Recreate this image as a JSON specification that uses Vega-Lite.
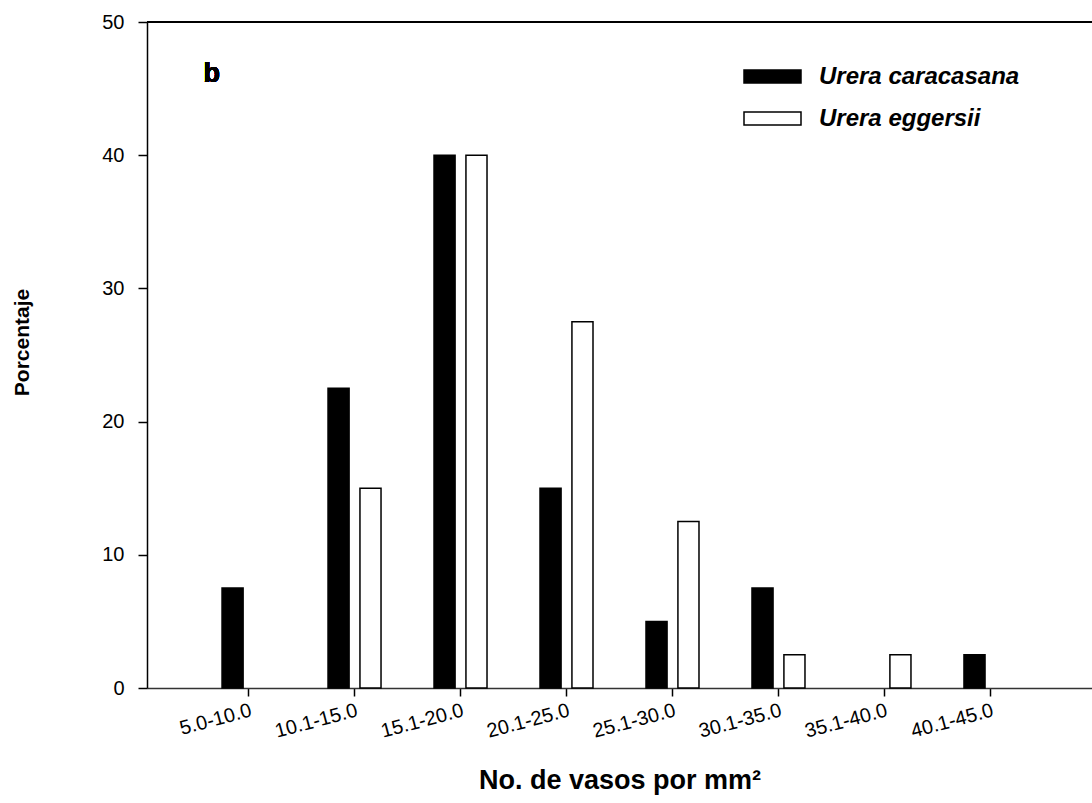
{
  "$schema": "https://vega.github.io/schema/vega-lite/v6.json",
  "width": 945,
  "height": 666,
  "autosize": {"type": "none"},
  "padding": {"left": 147, "top": 22, "right": 0, "bottom": 115},
  "background": "white",
  "config": {
    "font": "Liberation Sans",
    "view": {"stroke": null},
    "axis": {
      "grid": false,
      "domainColor": "black",
      "domainWidth": 1.5,
      "tickColor": "black",
      "tickWidth": 1.5,
      "labelColor": "black",
      "titleColor": "black",
      "labelFont": "Liberation Sans",
      "titleFont": "Liberation Sans"
    }
  },
  "data": {
    "values": [
      {"clase": "5.0-10.0", "especie": "Urera caracasana", "porcentaje": 7.5},
      {"clase": "5.0-10.0", "especie": "Urera eggersii", "porcentaje": 0},
      {"clase": "10.1-15.0", "especie": "Urera caracasana", "porcentaje": 22.5},
      {"clase": "10.1-15.0", "especie": "Urera eggersii", "porcentaje": 15},
      {"clase": "15.1-20.0", "especie": "Urera caracasana", "porcentaje": 40},
      {"clase": "15.1-20.0", "especie": "Urera eggersii", "porcentaje": 40},
      {"clase": "20.1-25.0", "especie": "Urera caracasana", "porcentaje": 15},
      {"clase": "20.1-25.0", "especie": "Urera eggersii", "porcentaje": 27.5},
      {"clase": "25.1-30.0", "especie": "Urera caracasana", "porcentaje": 5},
      {"clase": "25.1-30.0", "especie": "Urera eggersii", "porcentaje": 12.5},
      {"clase": "30.1-35.0", "especie": "Urera caracasana", "porcentaje": 7.5},
      {"clase": "30.1-35.0", "especie": "Urera eggersii", "porcentaje": 2.5},
      {"clase": "35.1-40.0", "especie": "Urera caracasana", "porcentaje": 0},
      {"clase": "35.1-40.0", "especie": "Urera eggersii", "porcentaje": 2.5},
      {"clase": "40.1-45.0", "especie": "Urera caracasana", "porcentaje": 2.5},
      {"clase": "40.1-45.0", "especie": "Urera eggersii", "porcentaje": 0}
    ]
  },
  "layer": [
    {
      "transform": [{"filter": "datum.porcentaje > 0"}],
      "mark": {"type": "bar", "stroke": "black", "strokeWidth": 1.5},
      "encoding": {
        "x": {
          "field": "clase",
          "type": "nominal",
          "sort": ["5.0-10.0", "10.1-15.0", "15.1-20.0", "20.1-25.0", "25.1-30.0", "30.1-35.0", "35.1-40.0", "40.1-45.0"],
          "scale": {"paddingInner": 0.5, "paddingOuter": 0.708},
          "axis": {
            "title": "No. de vasos por mm²",
            "titleFontSize": 27,
            "titleFontWeight": "bold",
            "titleBaseline": "alphabetic",
            "titleY": 100,
            "tickSize": 8,
            "labelAngle": -15,
            "labelAlign": "right",
            "labelBaseline": "top",
            "labelFontSize": 20,
            "labelPadding": 4,
            "domainColor": "#333333"
          }
        },
        "xOffset": {
          "field": "especie",
          "sort": ["Urera caracasana", "Urera eggersii"],
          "scale": {"domain": ["Urera caracasana", "Urera eggersii"], "paddingInner": 0.34, "paddingOuter": 0}
        },
        "y": {
          "field": "porcentaje",
          "type": "quantitative",
          "scale": {"domain": [0, 50], "nice": false},
          "axis": {
            "title": "Porcentaje",
            "titleFontSize": 21,
            "titleFontWeight": "bold",
            "titleX": -125,
            "titleY": 320,
            "titleBaseline": "middle",
            "titleAngle": 270,
            "values": [0, 10, 20, 30, 40, 50],
            "tickSize": 9,
            "labelPadding": 14,
            "labelFontSize": 20
          }
        },
        "fill": {
          "field": "especie",
          "type": "nominal",
          "scale": {"domain": ["Urera caracasana", "Urera eggersii"], "range": ["black", "white"]},
          "legend": {
            "title": null,
            "orient": "none",
            "legendX": 596,
            "legendY": 25,
            "padding": 0,
            "symbolType": "M-1,-0.23L1,-0.23L1,0.23L-1,0.23Z",
            "symbolSize": 3249,
            "symbolStrokeColor": "black",
            "symbolStrokeWidth": 1.5,
            "labelFontSize": 24,
            "labelFontStyle": "italic",
            "labelFontWeight": "bold",
            "labelColor": "black",
            "labelOffset": 17,
            "labelLimit": 400,
            "rowPadding": 0
          }
        }
      }
    },
    {
      "mark": {"type": "rule", "color": "black", "strokeWidth": 1.5},
      "encoding": {"y": {"datum": 50}}
    },
    {
      "mark": {
        "type": "text",
        "text": "b",
        "font": "Liberation Sans",
        "fontSize": 27,
        "fontWeight": "bold",
        "align": "left",
        "baseline": "alphabetic",
        "dx": -45,
        "color": "black"
      },
      "encoding": {
        "x": {"datum": "5.0-10.0"},
        "y": {"datum": 45.5}
      }
    }
  ]
}
